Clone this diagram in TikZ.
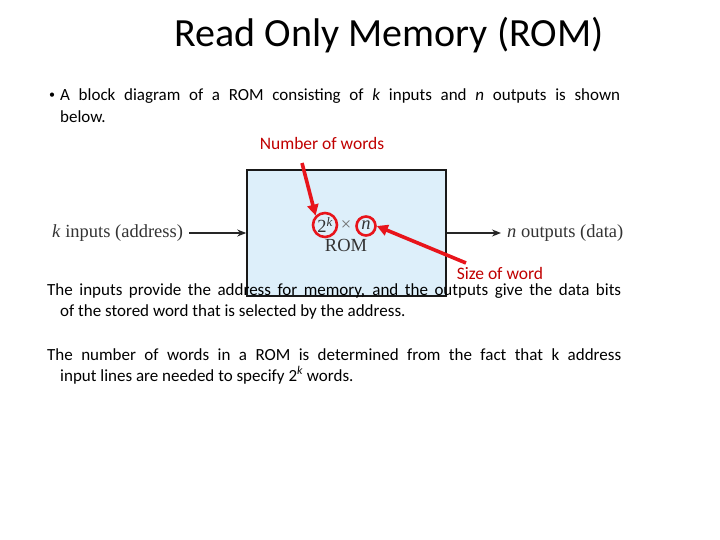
\documentclass[tikz,border=0pt]{standalone}
\usepackage{fontspec}
\setmainfont{Carlito}
\newfontfamily\timesfont{Liberation Serif}
\usetikzlibrary{arrows.meta}

\definecolor{romblue}{HTML}{DDEFFA}
\definecolor{notered}{HTML}{C00000}
\definecolor{markred}{HTML}{E8141B}

\tikzset{
  body/.style={anchor=base west, inner sep=0pt, font=\fontsize{17}{20}\selectfont},
  note/.style={inner sep=0pt, text=notered, font=\fontsize{17.5}{20}\selectfont},
  fig/.style={inner sep=0pt, font=\timesfont\fontsize{18.5}{20}\selectfont, text=black!80},
  ring/.style={draw=markred, line width=2.6pt, circle, inner sep=0pt},
  pointer/.style={draw=markred, line width=3.6pt, -{Triangle[length=11pt,width=11pt]}},
  flow/.style={draw=black!85, line width=1.2pt, -{Stealth[length=9pt,width=7pt]}}
}

\begin{document}
\begin{tikzpicture}[x=1pt,y=-1pt]
  \useasboundingbox (0,0) rectangle (720,540);

  % Titel
  \node[inner sep=0pt, font=\fontsize{40}{44}\selectfont] (title) at (389,35) {Read Only Memory (ROM)};

  % Aufzaehlung
  \node[inner sep=0pt, anchor=center, font=\fontsize{12}{12}\selectfont] (dot) at (52,96) {\textbullet};
  \node[body] (l1) at (60,101) {\makebox[560pt][s]{A block diagram of a ROM consisting of \textit{k} inputs and \textit{n} outputs is shown}};
  \node[body] (l2) at (60,123) {below.};

  % Blockbild
  \node[draw=black!90, line width=1.6pt, fill=romblue, minimum width=199pt, minimum height=126pt] (rom) at (346.5,233) {};
  \node[fig] (two) at (325,225) {2\textsuperscript{\itshape k}};
  \node[fig, text=black!55] (times) at (346,226) {×};
  \node[fig] (en) at (366,225) {\itshape n};
  \node[fig] (romtxt) at (346,245) {ROM};
  \node[ring, minimum size=24pt] (cwords) at (325,225) {};
  \node[ring, minimum size=19pt] (csize) at (366,226) {};

  \node[fig, anchor=west] (kin) at (52,233) {\textit{k} inputs (address)};
  \node[fig, anchor=west] (nout) at (507,233) {\textit{n} outputs (data)};
  \draw[flow] (kin.east) ++(6pt,0) coordinate (kstart) -- (rom.west);
  \draw[flow] (rom.east) -- ([xshift=-6pt]nout.west);

  % Hinweise
  \node[note] (nwords) at (322,143) {Number of words};
  \node[note] (wsize) at (500,273) {Size of word};
  \coordinate (wtail) at (466,263);
  \coordinate (ntail) at (302,163);
  \draw[pointer] (ntail) -- (cwords.north west);
  \draw[pointer] (wtail) -- (csize.east);

  % Text
  \node[body] (p1) at (47,295) {\makebox[574pt][s]{The inputs provide the address for memory, and the outputs give the data bits}};
  \node[body] (p2) at (60,316) {of the stored word that is selected by the address.};
  \node[body] (p3) at (47,360) {\makebox[574pt][s]{The number of words in a ROM is determined from the fact that k address}};
  \node[body] (p4) at (60,381) {input lines are needed to specify 2\textsuperscript{\itshape k} words.};
\end{tikzpicture}
\end{document}
